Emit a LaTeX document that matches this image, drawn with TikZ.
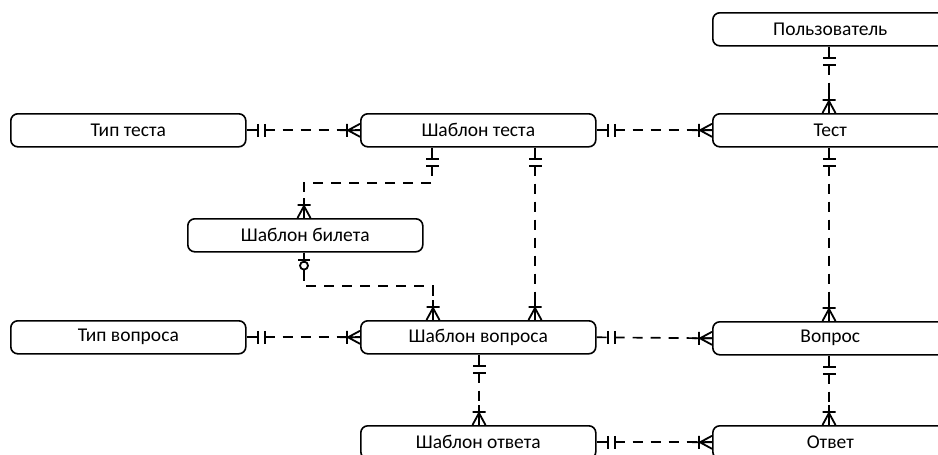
\documentclass[tikz,border=0pt]{standalone}
\usepackage{fontspec}
\setmainfont{Carlito}
\usetikzlibrary{calc}
\begin{document}
\begin{tikzpicture}[x=1pt,y=-1pt,
  entity/.style={draw, line width=1.6pt, rounded corners=7pt, minimum width=235pt,
    minimum height=33pt, inner sep=0pt, anchor=north west, font=\fontsize{19.5}{22}\selectfont},
  rel/.style={draw, line width=1.7pt, dash pattern=on 10pt off 8pt},
  mk/.style={draw, line width=1.8pt, solid},
  pics/mkone/.style={code={
    \draw[mk] (11,-6.5) -- (11,6.5) (18,-6.5) -- (18,6.5);}},
  pics/mkmany/.style={code={
    \draw[mk] (0,-6.5) -- (12,0) -- (0,6.5) (0,0) -- (20,0) (13,-6.5) -- (13,6.5);}},
  pics/mkzeroone/.style={code={
    \draw[mk] (0,0) -- (9,0) (17,0) -- (28,0) (7,-6) -- (7,6);
    \draw[mk] (13,0) circle (4);}}
]
\useasboundingbox (0,0) rectangle (938,455);
\clip (0,0) rectangle (938,455);

% entities
\node[entity] (user)   at (712,12)  {Пользователь};
\node[entity] (ttype)  at (10,113)  {Тип теста};
\node[entity] (ttpl)   at (360,113) {Шаблон теста};
\node[entity] (test)   at (712,113) {Тест};
\node[entity] (btpl)   at (187,218) {Шаблон билета};
\node[entity] (qtype)  at (10,320)  {Тип вопроса};
\node[entity] (qtpl)   at (360,320) {Шаблон вопроса};
\node[entity] (quest)  at (712,321) {Вопрос};
\node[entity] (atpl)   at (360,425) {Шаблон ответа};
\node[entity] (answ)   at (712,425) {Ответ};

% attachment points on box edges
\coordinate (ttplB1) at ($(ttpl.south west)+(72,0)$);
\coordinate (ttplB2) at ($(ttpl.south west)+(175,0)$);
\coordinate (btplT)  at ($(btpl.north west)+(117,0)$);
\coordinate (btplB)  at ($(btpl.south west)+(117,0)$);
\coordinate (qtplT1) at ($(qtpl.north west)+(73,0)$);
\coordinate (qtplT2) at ($(qtpl.north west)+(175,0)$);
\coordinate (qtplB)  at ($(qtpl.south west)+(119,0)$);
\coordinate (atplT)  at ($(atpl.north west)+(119,0)$);
\coordinate (userB)  at ($(user.south west)+(117,0)$);
\coordinate (testT)  at ($(test.north west)+(117,0)$);
\coordinate (testB)  at ($(test.south west)+(117,0)$);
\coordinate (questT) at ($(quest.north west)+(117,0)$);
\coordinate (questB) at ($(quest.south west)+(117,0)$);
\coordinate (answT)  at ($(answ.north west)+(117,0)$);

% relationships (dashed, starting at the "one" side)
\draw[rel] (ttype.east) -- (ttpl.west);
\draw[rel] (ttpl.east) -- (test.west);
\draw[rel] (userB) -- (testT);
\draw[rel] (ttplB1) |- ($(ttplB1)!0.5!(btplT)$) -| (btplT);
\draw[rel] (ttplB2) -- (qtplT2);
\draw[rel] (btplB) |- ($(btplB)!0.5!(qtplT1)$) -| (qtplT1);
\draw[rel] (testB) -- (questT);
\draw[rel] (qtype.east) -- (qtpl.west);
\draw[rel] (qtpl.east) -- (quest.west);
\draw[rel] (qtplB) -- (atplT);
\draw[rel] (questB) -- (answT);
\draw[rel] (atpl.east) -- (answ.west);

% cardinality marks
\pic at (ttype.east) {mkone};
\pic[rotate=180] at (ttpl.west) {mkmany};
\pic at (ttpl.east) {mkone};
\pic[rotate=180] at (test.west) {mkmany};
\pic[rotate=-90] at (userB) {mkone};
\pic[rotate=90] at (testT) {mkmany};
\pic[rotate=-90] at (ttplB1) {mkone};
\pic[rotate=90] at (btplT) {mkmany};
\pic[rotate=-90] at (ttplB2) {mkone};
\pic[rotate=90] at (qtplT2) {mkmany};
\pic[rotate=-90] at (btplB) {mkzeroone};
\pic[rotate=90] at (qtplT1) {mkmany};
\pic[rotate=-90] at (testB) {mkone};
\pic[rotate=90] at (questT) {mkmany};
\pic at (qtype.east) {mkone};
\pic[rotate=180] at (qtpl.west) {mkmany};
\pic at (qtpl.east) {mkone};
\pic[rotate=180] at (quest.west) {mkmany};
\pic[rotate=-90] at (qtplB) {mkone};
\pic[rotate=90] at (atplT) {mkmany};
\pic[rotate=-90] at (questB) {mkone};
\pic[rotate=90] at (answT) {mkmany};
\pic at (atpl.east) {mkone};
\pic[rotate=180] at (answ.west) {mkmany};
\end{tikzpicture}
\end{document}
